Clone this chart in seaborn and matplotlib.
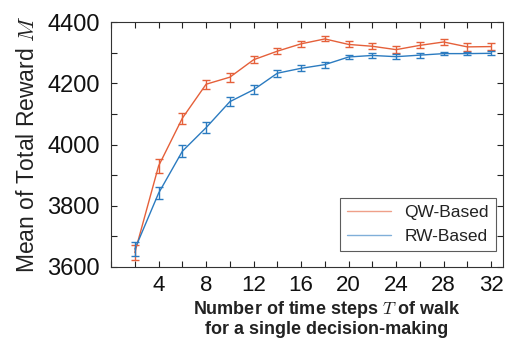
import numpy as np
import pandas as pd
import seaborn as sns
import matplotlib.pyplot as plt
from matplotlib.ticker import MultipleLocator

# walk length T
steps = [2, 4, 6, 8, 10, 12, 14, 16, 18, 20, 22, 24, 26, 28, 30, 32]
qw_mean = [3647, 3930, 4086, 4197, 4220, 4277, 4305, 4329, 4345, 4327, 4321, 4310, 4324, 4335, 4319, 4320]
qw_err = [24, 22, 18, 15, 15, 12, 10, 9, 8, 10, 10, 12, 10, 10, 12, 12]
rw_mean = [3658, 3841, 3978, 4055, 4140, 4179, 4233, 4249, 4261, 4286, 4291, 4287, 4292, 4297, 4297, 4298]
rw_err = [22, 20, 20, 18, 15, 14, 12, 10, 10, 8, 8, 8, 8, 6, 6, 6]
labels = ["QW-Based", "RW-Based"]
colors = ["#e5603a", "#2b7bc0"]

df = pd.concat([
    pd.DataFrame({"T": steps, "M": qw_mean, "err": qw_err, "method": labels[0]}),
    pd.DataFrame({"T": steps, "M": rw_mean, "err": rw_err, "method": labels[1]}),
])

sns.set_style("ticks")
plt.rcParams["font.family"] = ["Liberation Sans", "DejaVu Sans"]
plt.rcParams["mathtext.fontset"] = "cm"

fig = plt.figure(figsize=(5.05, 3.4), dpi=100)
ax = fig.add_axes([0.22, 0.215, 0.776, 0.72])

sns.lineplot(data=df, x="T", y="M", hue="method", palette=colors, lw=1.0, ax=ax)
for (name, g), c in zip(df.groupby("method", sort=False), colors):
    ax.errorbar(g["T"], g["M"], yerr=g["err"], fmt="none", ecolor=c,
                elinewidth=1.0, capsize=3, capthick=1.0)

ax.set_xlim(0, 33)
ax.set_ylim(3600, 4400)
ax.xaxis.set_major_locator(MultipleLocator(4))
ax.xaxis.set_minor_locator(MultipleLocator(2))
ax.yaxis.set_major_locator(MultipleLocator(200))
ax.yaxis.set_minor_locator(MultipleLocator(100))
ax.set_xticks(range(4, 33, 4))
ax.tick_params(which="both", direction="in", top=True, right=True, width=0.8,
               length=4, colors="#222222", labelcolor="#111111")
ax.tick_params(axis="y", labelsize=17, pad=8)
ax.tick_params(axis="x", labelsize=16, pad=6)
for s in ax.spines.values():
    s.set_linewidth(0.8)
    s.set_color("#333333")

ax.set_xlabel("Number of time steps $T$ of walk\nfor a single decision-making",
              fontsize=13, weight="bold", color="#222222",
              linespacing=1.05, labelpad=2)
ax.xaxis.label.set_x(0.55)
ax.set_ylabel("Mean of Total Reward $M$", fontsize=16.5, color="#222222", labelpad=6)

leg = ax.legend(loc="lower right", bbox_to_anchor=(1 - 7 / 392, 16 / 245),
                borderaxespad=0, fontsize=12.5, handlelength=2.5, frameon=True,
                fancybox=False, edgecolor="#333333")
leg.get_frame().set_linewidth(0.8)
for t in leg.get_texts():
    t.set_color("#222222")
for h in leg.get_lines():
    h.set_alpha(0.6)

plt.savefig("out.png")
